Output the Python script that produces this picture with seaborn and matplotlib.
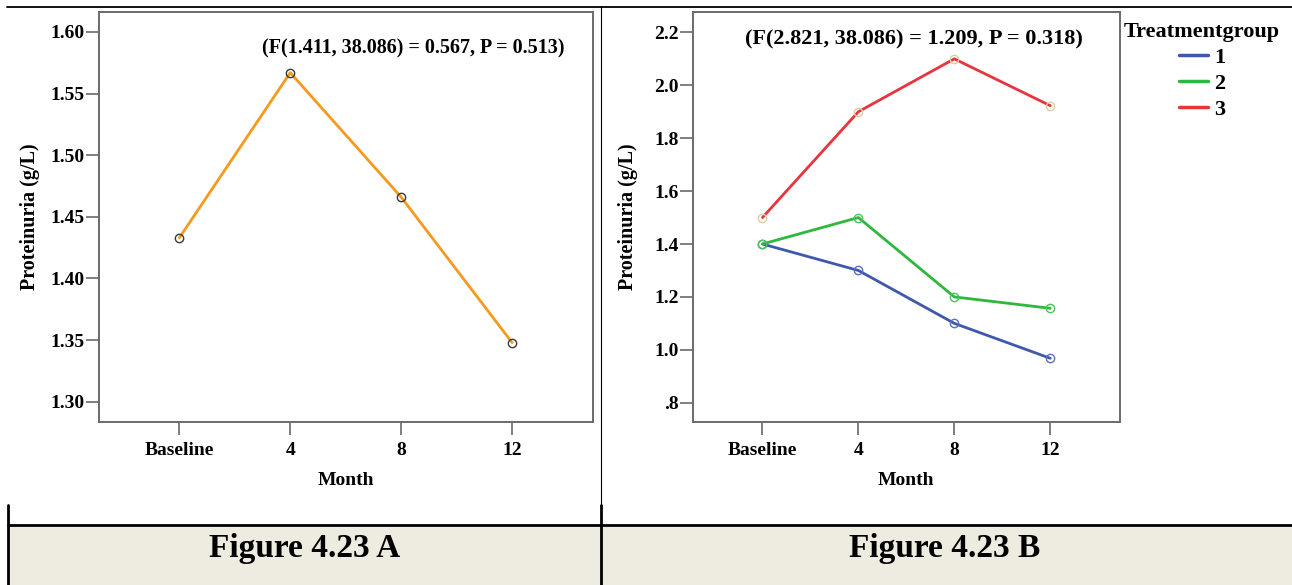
import matplotlib
matplotlib.use("Agg")
import matplotlib.pyplot as plt
from matplotlib.lines import Line2D
from matplotlib.patches import Rectangle
import numpy as np
import pandas as pd
import seaborn as sns

# ---- data -------------------------------------------------------------
months = ["Baseline", "4", "8", "12"]

overall_mean = [1.433, 1.567, 1.466, 1.348]

groups = ["1", "2", "3"]
group1_mean = [1.40, 1.30, 1.10, 0.968]
group2_mean = [1.40, 1.50, 1.20, 1.157]
group3_mean = [1.50, 1.90, 2.10, 1.923]

ticks_a = [1.30, 1.35, 1.40, 1.45, 1.50, 1.55, 1.60]
tick_labels_a = ["1.30", "1.35", "1.40", "1.45", "1.50", "1.55", "1.60"]
ticks_b = [0.8, 1.0, 1.2, 1.4, 1.6, 1.8, 2.0, 2.2]
tick_labels_b = [".8", "1.0", "1.2", "1.4", "1.6", "1.8", "2.0", "2.2"]

stats_a = "(F(1.411, 38.086) = 0.567, P = 0.513)"
stats_b = "(F(2.821, 38.086) = 1.209, P = 0.318)"
captions = ["Figure 4.23 A", "Figure 4.23 B"]

# ---- styling ----------------------------------------------------------
sns.set_style("white")
plt.rcParams["font.family"] = ["Liberation Serif", "DejaVu Serif"]
plt.rcParams["font.weight"] = "bold"
for key in ["text.color", "axes.labelcolor", "xtick.labelcolor", "ytick.labelcolor"]:
    plt.rcParams[key] = "black"

line_colors = {"1": "#3e58ac", "2": "#2eb83c", "3": "#e8343c"}
marker_colors = {"1": "#5b6fc2", "2": "#4cc45a", "3": "#d8d0a0"}
spine_color = "#6a6a6a"
fs = 14

df_a = pd.DataFrame({"Month": months, "Proteinuria": overall_mean})
df_b = pd.DataFrame({
    "Month": months * 3,
    "Proteinuria": group1_mean + group2_mean + group3_mean,
    "Treatmentgroup": [g for g in groups for _ in months],
})

W, H = 1292, 585
fig = plt.figure(figsize=(W / 100, H / 100), dpi=100)
fig.patch.set_facecolor("white")


def px_axes(left, right, top, bottom):
    return fig.add_axes([left / W, (H - bottom) / H, (right - left) / W, (bottom - top) / H])


def style_axes(ax, ticks, labels, ylim):
    ax.set_xlim(-0.727, 3.727)
    ax.set_ylim(*ylim)
    ax.set_yticks(ticks)
    ax.set_yticklabels(labels)
    for s in ax.spines.values():
        s.set_color(spine_color)
        s.set_linewidth(1.4)
    ax.tick_params(axis="both", which="major", direction="out", length=9.5, width=1.2,
                   color=spine_color, labelsize=fs, labelcolor="black",
                   bottom=True, left=True, top=False, right=False)
    ax.tick_params(axis="y", pad=0.5)
    ax.tick_params(axis="x", pad=5)
    for t in ax.get_xticklabels() + ax.get_yticklabels():
        t.set_fontweight("bold")
    ax.set_xlabel("Month", fontsize=fs, fontweight="bold")
    ax.set_ylabel("Proteinuria (g/L)", fontsize=14.5, fontweight="bold")
    ax.xaxis.set_label_coords(0.5, -0.122)
    ax.grid(False)


# ---- panel A ----------------------------------------------------------
ax_a = px_axes(98.7, 592.7, 12, 422.3)
sns.lineplot(data=df_a, x="Month", y="Proteinuria", color="#f59a1e", linewidth=2.0,
             sort=False, ax=ax_a)
sns.lineplot(data=df_a, x="Month", y="Proteinuria", color="#3a3a3a", linestyle="none",
             marker="o", markersize=6, markerfacecolor="none", markeredgecolor="auto",
             markeredgewidth=1.0, sort=False, ax=ax_a)
style_axes(ax_a, ticks_a, tick_labels_a, (1.2833, 1.6162))
ax_a.yaxis.set_label_coords(-0.118, 0.5)
ax_a.text(0.636, 0.91, stats_a, transform=ax_a.transAxes, ha="center", va="center",
          fontsize=14.5, fontweight="bold")

# ---- panel B ----------------------------------------------------------
ax_b = px_axes(692.7, 1120, 12, 422.3)
sns.lineplot(data=df_b, x="Month", y="Proteinuria", hue="Treatmentgroup",
             palette=line_colors, linewidth=2.0, sort=False, ax=ax_b)
sns.lineplot(data=df_b, x="Month", y="Proteinuria", hue="Treatmentgroup",
             palette=marker_colors, linestyle="none", marker="o", markersize=6,
             markerfacecolor="none", markeredgecolor="auto", markeredgewidth=1.0,
             sort=False, legend=False, ax=ax_b)
style_axes(ax_b, ticks_b, tick_labels_b, (0.726, 2.277))
ax_b.yaxis.set_label_coords(-0.128, 0.5)
ax_b.text(0.518, 0.932, stats_b, transform=ax_b.transAxes, ha="center", va="center",
          fontsize=16, fontweight="bold")

handles = [Line2D([], [], color=line_colors[g], linewidth=2.5) for g in groups]
leg = ax_b.legend(handles, groups, title="Treatmentgroup", loc="upper center",
                  bbox_to_anchor=(1202 / W, (H - 6) / H), bbox_transform=fig.transFigure,
                  frameon=False, fontsize=16, title_fontsize=16, handlelength=1.3,
                  handletextpad=0.3, labelspacing=0.25, borderpad=0.2)
leg.get_title().set_fontweight("bold")
for t in leg.get_texts():
    t.set_fontweight("bold")

# ---- table frame and captions -----------------------------------------
def fig_line(x0, y0, x1, y1, lw):
    fig.add_artist(Line2D([x0 / W, x1 / W], [(H - y0) / H, (H - y1) / H],
                          color="black", linewidth=lw, transform=fig.transFigure))


fig.add_artist(Rectangle((8 / W, 0), (W - 8) / W, (H - 526) / H, transform=fig.transFigure,
                         facecolor="#eeebe0", edgecolor="none", zorder=0))
fig_line(7, 6.5, W, 6.5, 1.3)
fig_line(600.5, 6, 600.5, 505, 0.8)
fig_line(601, 505, 601, H, 2.0)
fig_line(8, 505, 8, H, 2.0)
fig_line(8, 525, W, 525, 2.0)

for cx, cap in zip([305, 945], captions):
    fig.text(cx / W, (H - 548) / H, cap, ha="center", va="center", fontsize=24,
             fontweight="bold", color="black")

fig.savefig("out.png", dpi=100, facecolor="white")
